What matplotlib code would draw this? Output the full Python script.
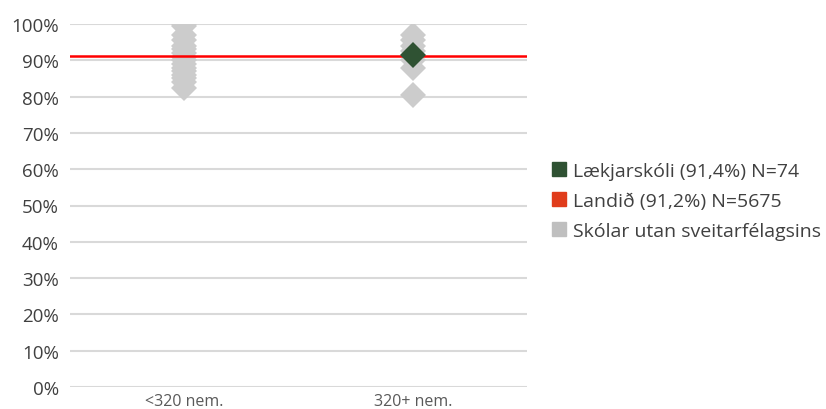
import matplotlib
matplotlib.use("Agg")
import matplotlib.pyplot as plt
from matplotlib.patches import Patch
from matplotlib.ticker import FuncFormatter

categories = ["<320 nem.", "320+ nem."]
others_small = [100, 99.5, 97, 95.5, 94, 93, 92, 91, 90, 89, 88, 87, 86, 85, 84, 82.5]
others_large = [97, 95.5, 94, 92.5, 90, 88, 80.5]
school_cat = 1
school_value = 91.4
national_value = 91.2
legend_labels = ["Lækjarskóli (91,4%) N=74", "Landið (91,2%) N=5675", "Skólar utan sveitarfélagsins"]
yticks = list(range(0, 101, 10))

plt.rcParams['font.family'] = ['Open Sans', 'DejaVu Sans']

fig = plt.figure(figsize=(8.26, 4.10), dpi=100)
ax = fig.add_axes([70/826, 1-388/410, (527-70)/826, (388-25)/410])

for y in yticks[1:]:
    ax.axhline(y, color="#D9D9D9", lw=1.5, zorder=1)
ax.axhline(0, color="#D9D9D9", lw=1.5, zorder=1)

ax.plot([0]*len(others_small), others_small, 'D', color="#CCCCCC", ms=13.5, mew=0, zorder=2)
ax.plot([1]*len(others_large), others_large, 'D', color="#CCCCCC", ms=13.5, mew=0, zorder=2)
ax.axhline(national_value, color="#FF0000", lw=1.8, zorder=3)
ax.plot([school_cat], [school_value], 'D', color="#2F5233", ms=13.5, mew=0, zorder=4)

ax.set_xlim(-0.5, 1.5)
ax.set_ylim(0, 100)
ax.set_yticks(yticks)
ax.yaxis.set_major_formatter(FuncFormatter(lambda v, p: f"{int(v)}%"))
ax.set_xticks([0, 1])
ax.set_xticklabels(categories)
for s in ax.spines.values():
    s.set_visible(False)
ax.tick_params(axis='y', length=0, pad=8, labelsize=13.5, labelcolor="#404040")
ax.tick_params(axis='x', length=0, pad=4, labelsize=11.5, labelcolor="#595959")

handles = [Patch(color="#2F5233"), Patch(color="#E03C1B"), Patch(color="#BFBFBF")]
fig.legend(handles, legend_labels, loc="center left", bbox_to_anchor=(534/826, 1-202/410),
           frameon=False, fontsize=14, labelcolor="#404040", handlelength=0.75, handleheight=0.75,
           handletextpad=0.35, labelspacing=0.62)

fig.savefig("out.png", dpi=100)
